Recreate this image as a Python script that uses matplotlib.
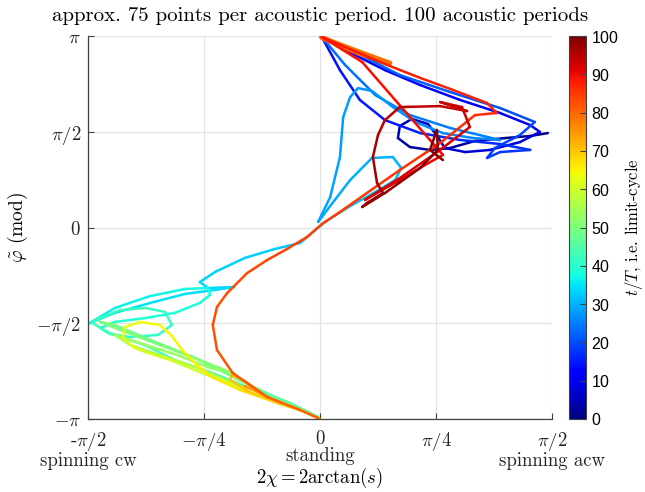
import numpy as np
import matplotlib
matplotlib.use("Agg")
import matplotlib.pyplot as plt
from matplotlib.collections import LineCollection
from matplotlib.cm import ScalarMappable
from matplotlib.colors import Normalize

plt.rcParams['font.family'] = 'cmr10'
plt.rcParams['mathtext.fontset'] = 'cm'
plt.rcParams['axes.formatter.use_mathtext'] = True

# trajectory, in units of pi: x = 2chi/pi, y = phi/pi, t = t/T
# pieces are split where phi wraps from -pi to pi
seg1_t = [0, 0.7, 1.4, 2.1, 2.8, 3.4, 4, 4.5, 5, 5.5, 6, 6.5, 7, 7.5, 8, 8.6, 9.2, 9.8, 10.4, 11, 11.6, 12.2, 12.8, 13.4,
          14, 14.6, 15.2, 15.8, 16.4, 17, 17.6, 18, 18.4, 18.8, 19.4, 20, 20.6, 21.2, 21.8, 22.4, 23,
          23.5, 24, 24.5, 25, 25.5, 26, 26.3, 26.6, 26.9, 27.2, 27.4, 27.6, 27.9, 28.3, 28.7, 29,
          29.3, 29.6, 30, 30.3, 30.6, 30.9, 31.2, 31.5, 31.8,
          32.1, 32.4, 32.8, 33.2, 33.5, 33.7, 34, 34.2, 34.5, 34.9, 35.3, 35.7,
          36.2, 36.7, 37.2, 37.6, 37.9, 38.2, 38.6, 39, 39.4, 39.7, 40, 40.3, 40.7, 41, 41.3, 41.6, 42, 42.3, 42.5,
          42.8, 43.3, 43.8, 44.3, 44.8, 45.3, 45.8,
          46.2, 46.7, 47.2, 47.8, 48.5, 49.2, 49.5, 50, 50.7, 51.4, 52.1, 52.5, 53, 53.7, 54.2,
          55, 56, 57, 58, 59, 59.5, 60, 60.6, 61.2, 61.8,
          62.5, 63, 63.5, 64, 64.6, 65.2, 65.8, 66.4, 67, 67.8, 68.5, 69, 69.6, 70.2,
          71, 72, 73, 74, 75, 76, 77]
seg1_x = [.491, .453, .399, .334, .280, .237, .194, .168, .172, .198, .233, .254, .269, .313, .366, .431, .474, .453, .388, .302, .216, .140, .075, .004,
          .043, .086, .140, .216, .302, .388, .453, .388, .360, .377, .431, .463, .388, .280, .172, .075, .004,
          .054, .119, .194, .280, .388, .330, .265, .205, .157, .112, .082, .065, .050, .043, .022, -.004,
          .032, .065, .112, .157, .175, .162, .119, .065, .011,
          -.043, -.097, -.162, -.226, -.259, -.241, -.185, -.226, -.291, -.366, -.442, -.496,
          -.442, -.366, -.291, -.241, -.237, -.259, -.313, -.377, -.442, -.474, -.453, -.409, -.349, -.319, -.334, -.377, -.431, -.474, -.491,
          -.453, -.377, -.313, -.237, -.151, -.065, -.004,
          -.043, -.129, -.200, -.274, -.366, -.442, -.474, -.431, -.345, -.259, -.183, -.237, -.302, -.388, -.442,
          -.409, -.345, -.269, -.205, -.151, -.194, -.259, -.323, -.377, -.399,
          -.425, -.420, -.388, -.345, -.319, -.297, -.263, -.233, -.172, -.097, -.043, -.086, -.151, -.194,
          -.190, -.162, -.129, -.162, -.108, -.043, 0.0]
seg1_y = [.493, .478, .467, .452, .415, .405, .420, .467, .530, .567, .540, .473, .415, .394, .405, .446, .499, .535, .598, .666, .744, .822, .901, .995,
          .822, .666, .561, .493, .457, .436, .405, .394, .363, .415, .483, .551, .624, .708, .796, .916, .995,
          .849, .692, .587, .520, .457, .467, .493, .551, .629, .713, .728, .681, .577, .368, .159, .029,
          .144, .248, .363, .368, .311, .248, .185, .112, .029,
          -.081, -.112, -.159, -.232, -.285, -.316, -.311, -.326, -.347, -.394, -.446, -.499,
          -.420, -.358, -.321, -.316, -.352, -.394, -.446, -.473, -.493, -.525, -.556, -.572, -.561, -.509, -.441, -.420, -.431, -.473, -.499,
          -.551, -.614, -.692, -.755, -.838, -.916, -.990,
          -.943, -.849, -.765, -.676, -.587, -.509, -.493, -.535, -.614, -.692, -.765, -.734, -.671, -.603, -.561,
          -.614, -.666, -.728, -.796, -.859, -.817, -.755, -.692, -.650, -.629,
          -.577, -.520, -.493, -.509, -.567, -.640, -.723, -.781, -.849, -.911, -.953, -.922, -.859, -.796,
          -.770, -.802, -.859, -.828, -.890, -.953, -1.0]

seg2_t = [77.5, 78.3, 79, 79.6, 80.2]
seg2_x = [.002, .075, .151, .086, .004]
seg2_y = [.995, .927, .859, .906, .990]

seg3_t = [80.3, 80.6, 81, 81.5, 81.9, 82.3, 82.6, 82.9, 83.3, 83.6, 83.9, 84.2, 84.5, 84.8, 85.2, 85.6, 86, 86.4,
          86.8, 87.2, 87.6, 88, 88.4, 88.8, 89.2, 89.6, 90, 90.3, 90.6, 91, 91.4, 91.8, 92.2, 92.6, 93, 93.4,
          93.8, 94.2, 94.6, 95, 95.5, 96, 96.5, 97, 97.3, 97.6, 98, 98.4, 98.8, 99.2, 99.6, 100]
seg3_x = [-.004, -.043, -.114, -.188, -.222, -.231, -.222, -.200, -.157, -.114, -.071, -.028, .004, .043, .101, .172, .259, .334,
          .381, .360, .287, .216, .129, .004, .091, .162, .237, .265, .226, .172, .097, .172, .259, .323, .306, .259,
          .317, .259, .172, .140, .125, .114, .123, .136, .101, .091, .140, .216, .254, .252, .237, .265]
seg3_y = [-.995, -.953, -.885, -.760, -.640, -.509, -.415, -.342, -.238, -.170, -.112, -.050, .018, .081, .180, .300, .441, .587,
          .598, .650, .718, .781, .864, .995, .864, .666, .457, .379, .326, .248, .144, .258, .405, .525, .629, .655,
          .608, .634, .629, .561, .483, .368, .232, .180, .128, .107, .180, .311, .405, .509, .405, .352]

pieces = [(seg1_x, seg1_y, seg1_t, 1.8), (seg2_x, seg2_y, seg2_t, 3.2), (seg3_x, seg3_y, seg3_t, 1.8)]

fig = plt.figure(figsize=(6.45, 4.92), dpi=100)
ax = fig.add_axes([0.1364, 0.1484, 0.7194, 0.7784])
norm = Normalize(0, 100)
cmap = plt.get_cmap('jet')

for px, py, pt, lw in pieces:
    pts = np.column_stack([np.array(px) * np.pi, np.array(py) * np.pi])
    segs = np.stack([pts[:-1], pts[1:]], axis=1)
    tt = np.array(pt)
    lc = LineCollection(segs, cmap=cmap, norm=norm, linewidths=lw, capstyle='round', joinstyle='round')
    lc.set_array(0.5 * (tt[:-1] + tt[1:]))
    ax.add_collection(lc)

ax.set_xlim(-np.pi / 2, np.pi / 2)
ax.set_ylim(-np.pi, np.pi)
ax.set_xticks([-np.pi / 2, -np.pi / 4, 0, np.pi / 4, np.pi / 2])
ax.set_xticklabels(['-$\\pi/2$\nspinning cw', '$-\\pi/4$', '$0$\nstanding', '$\\pi/4$', '$\\pi/2$\nspinning acw'],
                   fontsize=13.5, linespacing=0.92)
ax.set_yticks([-np.pi, -np.pi / 2, 0, np.pi / 2, np.pi])
ax.set_yticklabels(['$-\\pi$', '$-\\pi/2$', '$0$', '$\\pi/2$', '$\\pi$'], fontsize=13.5)
ax.tick_params(direction='in', length=4, color='#404040', labelcolor='#262626')
ax.tick_params(axis='x', pad=8)
ax.tick_params(axis='y', pad=5)
ax.grid(True, color='#e3e3e3', lw=0.9)
ax.set_axisbelow(True)
for s in ['top', 'right']:
    ax.spines[s].set_visible(False)
for s in ['left', 'bottom']:
    ax.spines[s].set_color('#404040')
    ax.spines[s].set_linewidth(0.9)

ax.set_xlabel('$2\\chi = 2\\mathrm{arctan}(s)$', fontsize=13.5)
ax.xaxis.set_label_coords(0.5, -0.122)
ax.set_ylabel('$\\tilde{\\varphi}$ (mod)', fontsize=14, labelpad=4)
ax.set_title('approx. 75 points per acoustic period. 100 acoustic periods', fontsize=15, pad=11)

cax = fig.add_axes([0.882, 0.1484, 0.0264, 0.7784])
cb = fig.colorbar(ScalarMappable(norm=norm, cmap=cmap), cax=cax)
cb.set_ticks(np.arange(0, 101, 10))
cb.ax.tick_params(labelsize=11.5, length=4, direction='in', color='#404040')
for lab in cb.ax.get_yticklabels():
    lab.set_family('Liberation Sans')
cb.outline.set_edgecolor('#404040')
cb.set_label('$t/T$, i.e. limit-cycle', fontsize=12, labelpad=3)

fig.savefig('out.png', dpi=100)
